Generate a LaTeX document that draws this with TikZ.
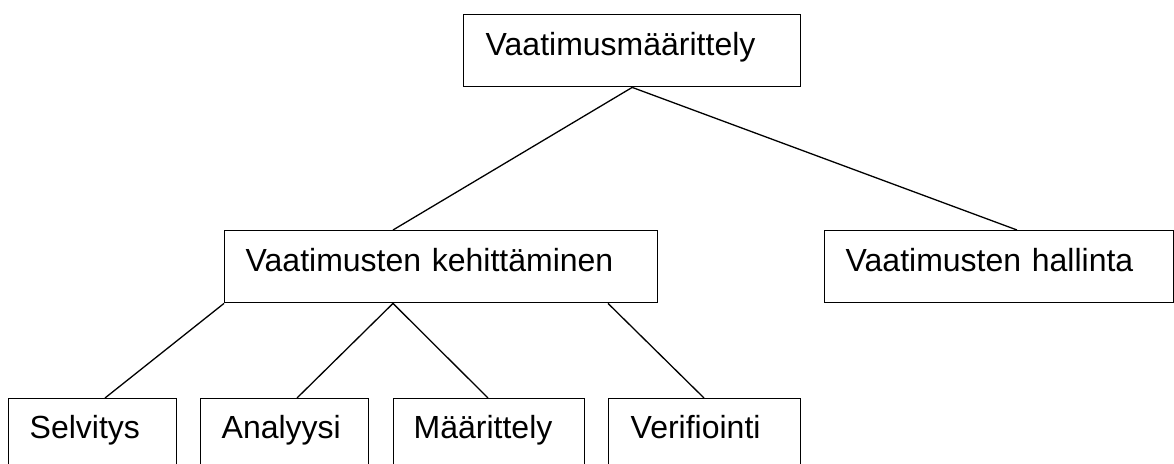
\documentclass[tikz,border=0pt]{standalone}
\usepackage{fontspec}
\setmainfont{Liberation Sans}
\begin{document}
\begin{tikzpicture}[x=1pt,y=-1pt,
  box/.style={draw=black,line width=1.4pt,anchor=north west,align=left,
    inner ysep=0pt,text height=41pt,font=\fontsize{32}{38}\selectfont},
  link/.style={draw=black,line width=1.3pt}]
\clip (0,0) rectangle (1174,463);
\useasboundingbox (0,0) rectangle (1174,463);
\node[box,inner xsep=22pt,text width=293pt,text depth=31pt] (top) at (463,14) {Vaatimusmäärittely};
\node[box,inner xsep=21pt,text width=391pt,text depth=31pt] (keh) at (224,230) {Vaatimusten kehittäminen};
\node[box,inner xsep=21pt,text width=307pt,text depth=31pt] (hal) at (824,230) {Vaatimusten hallinta};
\node[box,inner xsep=21pt,text width=126pt,text depth=90pt,text height=40pt] (sel) at (8,398) {Selvitys};
\node[box,inner xsep=21pt,text width=126pt,text depth=90pt,text height=40pt] (ana) at (200,398) {Analyysi};
\node[box,inner xsep=20pt,text width=151pt,text depth=90pt,text height=40pt] (maa) at (393,398) {Määrittely};
\node[box,inner xsep=22pt,text width=148pt,text depth=90pt,text height=40pt] (ver) at (608,398) {Verifiointi};
\draw[link] (top.south) -- ([xshift=169pt]keh.north west);
\draw[link] (top.south) -- ([xshift=193pt]hal.north west);
\draw[link] (keh.south west) -- ([xshift=97pt]sel.north west);
\draw[link] ([xshift=169pt]keh.south west) -- ([xshift=97pt]ana.north west);
\draw[link] ([xshift=169pt]keh.south west) -- ([xshift=95pt]maa.north west);
\draw[link] ([xshift=384pt]keh.south west) -- ([xshift=96pt]ver.north west);
\end{tikzpicture}
\end{document}
